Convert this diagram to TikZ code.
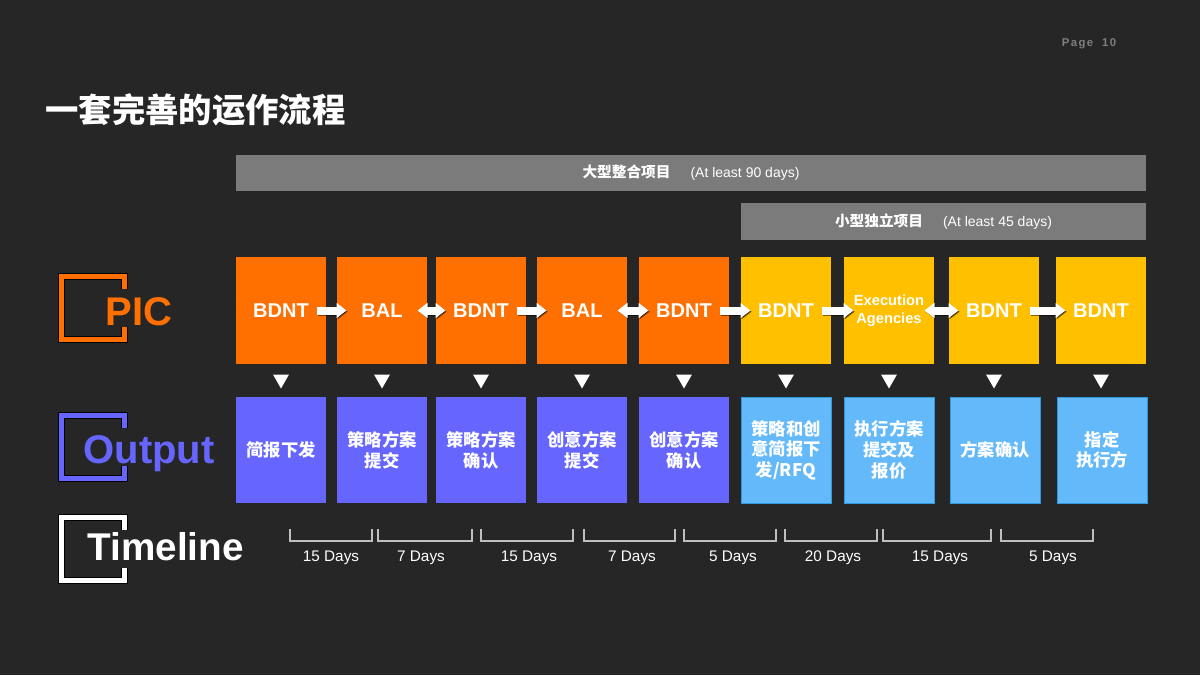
\documentclass[tikz,border=0pt]{standalone}
\usepackage{fontspec}
\setmainfont{Liberation Sans}
\newfontfamily\cjk{Noto Sans CJK SC}
\usetikzlibrary{arrows.meta,calc}

\definecolor{bgdark}{HTML}{262626}
\definecolor{picorange}{HTML}{FF7000}
\definecolor{picyellow}{HTML}{FFC000}
\definecolor{outpurple}{HTML}{6666FF}
\definecolor{outblue}{HTML}{63B9F9}
\definecolor{outblueline}{HTML}{2E9BE0}
\definecolor{bargray}{HTML}{7B7B7B}
\definecolor{pagegray}{HTML}{7F7F7F}
\definecolor{tickgray}{HTML}{BFBFBF}

\tikzset{every picture/.style={line width=0.75pt}}
\tikzset{
  stagebox/.style={minimum width=67.5pt, minimum height=80.25pt, inner sep=0pt, text=white, align=center, font=\bfseries\fontsize{15}{18}\selectfont},
  outbox/.style={minimum width=67.5pt, minimum height=79.5pt, inner sep=0pt, text=white, align=center, font=\cjk\bfseries\fontsize{13}{15.5}\selectfont},
  barbox/.style={fill=bargray, inner sep=0pt, text=white},
  flowbody/.style={line width=6pt, draw=white},
  flowshade/.style={line width=6pt, draw=black, draw opacity=0.5, transform canvas={xshift=0.9pt,yshift=-0.9pt}},
  tickline/.style={draw=tickgray, line width=1.5pt},
  daylabel/.style={text=white, font=\fontsize{11.5}{14}\selectfont},
  iconshade/.style={draw=black, line width=5.25pt},
  iconlabel/.style={inner sep=0pt, font=\bfseries\fontsize{30}{36}\selectfont},
}

\begin{document}
\begin{tikzpicture}[x=0.75pt,y=0.75pt,yscale=-1,xscale=1, >={Triangle[length=7.5pt,width=11pt]}]

\fill[bgdark] (0,0) rectangle (1200,675);
\useasboundingbox (0,0) rectangle (1200,675);

% title and page number
\node[anchor=west, inner sep=0pt, text=white, font=\cjk\bfseries\fontsize{25}{30}\selectfont] (title) at (45,110) {一套完善的运作流程};
\node[text=pagegray, font=\bfseries\fontsize{8.5}{10}\selectfont\addfontfeature{LetterSpace=12}] (page) at (1089,44) {Page\ \ 10};

% project bars
\node[barbox, minimum width=682.5pt, minimum height=27pt] (bigbar) at (691,173) {{\cjk\bfseries\fontsize{11}{13}\selectfont 大型整合项目}\hspace{15pt}{\fontsize{10.5}{13}\selectfont (At least 90 days)}};
\node[barbox, minimum width=303.75pt, minimum height=27.75pt] (smallbar) at (943.5,221.5) {{\cjk\bfseries\fontsize{11}{13}\selectfont 小型独立项目}\hspace{15pt}{\fontsize{10.5}{13}\selectfont (At least 45 days)}};

% left icons
\foreach \t/\col in {274/picorange,413/outpurple,515/white}{
  \draw[iconshade] (124.5,\t+15) -- (124.5,\t+2.5) -- (61.5,\t+2.5) -- (61.5,\t+65.5) -- (124.5,\t+65.5) -- (124.5,\t+53);
  \draw[draw=\col, line width=3.75pt] (124.5,\t+15) -- (124.5,\t+2.5) -- (61.5,\t+2.5) -- (61.5,\t+65.5) -- (124.5,\t+65.5) -- (124.5,\t+53);
}
\node[iconlabel, text=picorange, anchor=base west] (pic) at (105,325) {PIC};
\node[iconlabel, text=outpurple, anchor=base west] (output) at (83,463) {Output};
\node[iconlabel, text=white, anchor=base west, font=\bfseries\fontsize{29}{36}\selectfont] (timeline) at (87,560) {Timeline};

% PIC row
\foreach \i/\x/\lab/\col in {1/281/BDNT/picorange, 2/382/BAL/picorange, 3/481/BDNT/picorange, 4/582/BAL/picorange, 5/684/BDNT/picorange, 6/786/BDNT/picyellow, 8/994/BDNT/picyellow, 9/1101/BDNT/picyellow}
  \node[stagebox, fill=\col] (p\i) at (\x,310.5) {\lab};
\node[stagebox, fill=picyellow, font=\bfseries\fontsize{11}{13.5}\selectfont] (p7) at (889,310.5) {Execution\\Agencies};

% output row
\foreach \i/\x/\lab in {1/281/简报下发, 2/382/策略方案\\提交, 3/481/策略方案\\确认, 4/582/创意方案\\提交, 5/684/创意方案\\确认}
  \node[outbox, fill=outpurple] (o\i) at (\x,450) {\lab};
\foreach \i/\x/\lab in {6/786/{策略和创\\意简报下\\发/RFQ}, 7/889/执行方案\\提交及\\报价, 8/995/方案确认, 9/1102/指定\\执行方}
  \node[outbox, fill=outblue, draw=outblueline] (o\i) at (\x,450) {\lab};

% arrows between stages
\foreach \a/\b in {1/2, 3/4, 5/6, 6/7, 8/9}{
  \draw[flowshade, ->] ([xshift=-7.5pt]p\a.east) -- ([xshift=7.5pt]p\b.west);
  \draw[flowbody, ->] ([xshift=-7.5pt]p\a.east) -- ([xshift=7.5pt]p\b.west);
}
\foreach \a/\b in {2/3, 4/5, 7/8}{
  \draw[flowshade, <->] ([xshift=-7.5pt]p\a.east) -- ([xshift=7.5pt]p\b.west);
  \draw[flowbody, <->] ([xshift=-7.5pt]p\a.east) -- ([xshift=7.5pt]p\b.west);
}

% down markers
\foreach \i in {1,...,9}
  \fill[white] ($(p\i.south)+(-8,10)$) -- ++(16,0) -- ++(-8,14) -- cycle;

% timeline
\foreach \l/\r/\xt/\days [count=\k] in {290/372/331/15 Days, 378/472/421/7 Days, 481/573/529/15 Days, 584/675/632/7 Days, 684/776/733/5 Days, 785/877/833/20 Days, 883/991/940/15 Days, 1001/1093/1053/5 Days}{
  \draw[tickline] (\l,529) |- (\r,541) -- (\r,529);
  \node[daylabel] (day\k) at (\xt,558) {\days};
}

\end{tikzpicture}
\end{document}
